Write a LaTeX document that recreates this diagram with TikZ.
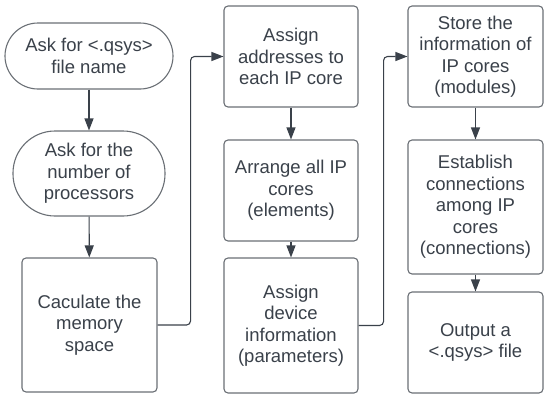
\documentclass[tikz,border=0pt]{standalone}
\usepackage{fontspec}
\setmainfont{Liberation Sans}
\usetikzlibrary{arrows.meta}
\definecolor{txt}{HTML}{3A414A}
\definecolor{brd}{HTML}{6A6F75}
\tikzset{
  base/.style={draw=brd, line width=1.1pt, fill=white, text=txt, align=center, inner sep=0pt,
    font=\fontsize{18.5}{21.5}\selectfont},
  proc/.style={base, rounded corners=4pt},
  conn/.style={draw=txt, line width=1.1pt, -{Triangle[width=9pt,length=12pt]}, rounded corners=4pt},
}
\begin{document}
\begin{tikzpicture}[x=1pt,y=-1pt]
\useasboundingbox (0,0) rectangle (550,402);
\node[base, rounded corners=33pt, minimum width=168pt, minimum height=66pt] (t1) at (89,56) {Ask for <.qsys>\\file name};
\node[base, rounded corners=42pt, minimum width=152pt, minimum height=85pt] (t2) at (89,173.5) {Ask for the\\number of\\processors};
\node[proc, minimum width=135pt, minimum height=134pt] (b3) at (89.5,325) {Caculate the\\memory\\space};
\node[proc, minimum width=134pt, minimum height=101pt] (b4) at (291,56.5) {Assign\\addresses to\\each IP core};
\node[proc, minimum width=134pt, minimum height=101pt] (b5) at (291,190.5) {Arrange all IP\\cores\\(elements)};
\node[proc, minimum width=134pt, minimum height=135pt] (b6) at (291,325.5) {Assign\\device\\information\\(parameters)};
\node[proc, minimum width=135pt, minimum height=101pt] (b7) at (475.5,56.5) {Store the\\information of\\IP cores\\(modules)};
\node[proc, minimum width=135pt, minimum height=134pt] (b8) at (475.5,207) {Establish\\connections\\among IP\\cores\\(connections)};
\node[proc, minimum width=135pt, minimum height=101pt] (b9) at (475.5,342.5) {Output a\\<.qsys> file};
\draw[conn] (t1) -- (t2);
\draw[conn] (t2) -- (b3);
\draw[conn] (b3.east) -- ++(33,0) |- (b4.west);
\draw[conn] (b4) -- (b5);
\draw[conn] (b5) -- (b6);
\draw[conn] (b6.east) -- ++(25,0) |- (b7.west);
\draw[conn] (b7) -- (b8);
\draw[conn] (b8) -- (b9);
\end{tikzpicture}
\end{document}
